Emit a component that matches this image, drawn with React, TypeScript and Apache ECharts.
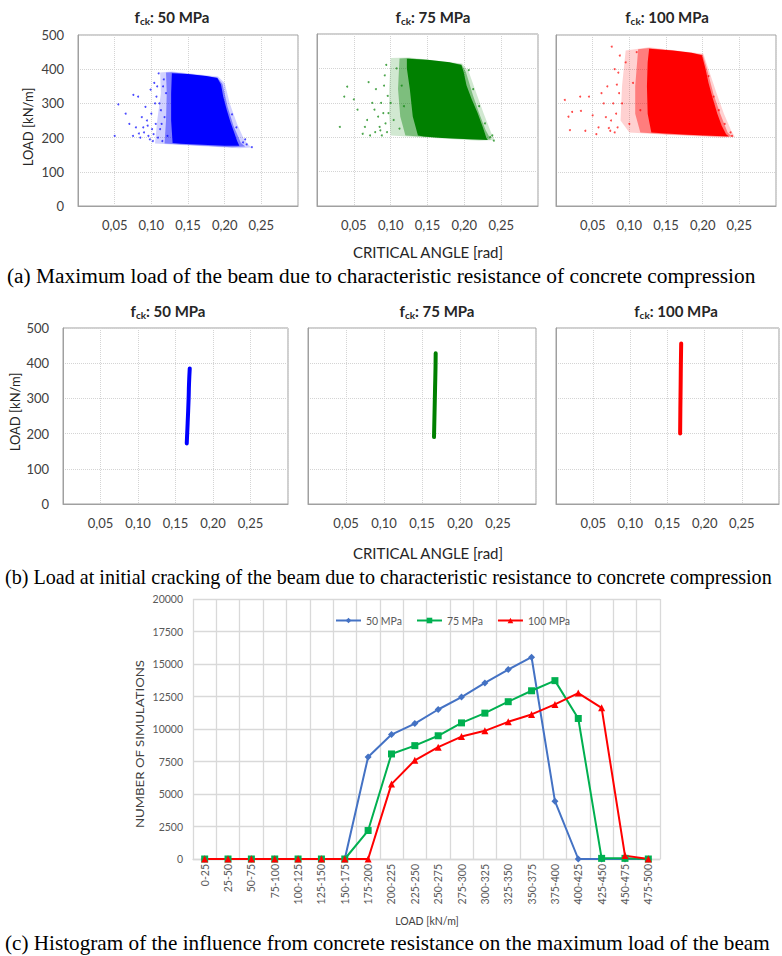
import React, { useEffect, useRef } from "react";
import * as echarts from "echarts";

// ---------- shared ticks / labels ----------
const strengthTitles = ["50 MPa", "75 MPa", "100 MPa"];
const scatterColors = ["#0000ff", "#008000", "#ff0000"];

// ---------- (a) maximum load clouds: [critical angle rad, load kN/m] ----------
const coreA50 = [[0.128, 388], [0.15, 386], [0.175, 380], [0.19, 374], [0.195, 355], [0.198, 320], [0.203, 280], [0.208, 245], [0.213, 215], [0.217, 190], [0.22, 176], [0.2, 176], [0.17, 179], [0.14, 182], [0.129, 184], [0.127, 250], [0.127, 330]];
const midA50 = [[0.12, 390], [0.128, 391], [0.19, 376], [0.197, 357], [0.204, 290], [0.212, 235], [0.222, 185], [0.228, 174], [0.21, 172], [0.14, 180], [0.118, 183], [0.12, 250], [0.121, 330]];
const fringeA50 = [[0.112, 390], [0.128, 393], [0.191, 379], [0.2, 360], [0.207, 300], [0.217, 240], [0.227, 192], [0.236, 171], [0.22, 169], [0.14, 178], [0.105, 183], [0.108, 250], [0.113, 330]];
const sparseA50 = [[0.05, 205], [0.055, 297], [0.0755, 325], [0.082, 320], [0.07, 240], [0.075, 205], [0.085, 200], [0.09, 215], [0.095, 235], [0.1, 270], [0.098, 195], [0.105, 300], [0.108, 350], [0.11, 388], [0.112, 225], [0.115, 190], [0.118, 260], [0.12, 330], [0.087, 260], [0.092, 290], [0.065, 270], [0.079, 230], [0.103, 210], [0.113, 280], [0.117, 370], [0.122, 205], [0.23, 180], [0.225, 186], [0.237, 172], [0.228, 195], [0.216, 230], [0.21, 268], [0.096, 205], [0.106, 240], [0.083, 212], [0.101, 225], [0.104, 360], [0.107, 320], [0.094, 250], [0.089, 230], [0.099, 340], [0.111, 300], [0.114, 240], [0.116, 350], [0.109, 200], [0.102, 190]];

const coreA75 = [[0.122, 428], [0.15, 425], [0.18, 418], [0.196, 410], [0.199, 390], [0.203, 350], [0.21, 310], [0.218, 270], [0.225, 230], [0.23, 198], [0.232, 192], [0.2, 195], [0.17, 198], [0.145, 202], [0.137, 205], [0.13, 260], [0.126, 340], [0.122, 400]];
const midA75 = [[0.112, 429], [0.124, 430], [0.196, 412], [0.202, 390], [0.212, 320], [0.22, 270], [0.229, 220], [0.236, 193], [0.21, 193], [0.14, 202], [0.12, 205], [0.113, 260], [0.11, 340]];
const fringeA75 = [[0.1, 430], [0.125, 432], [0.197, 414], [0.206, 390], [0.216, 330], [0.226, 270], [0.236, 215], [0.241, 192], [0.22, 190], [0.14, 200], [0.1, 205], [0.098, 260], [0.098, 340]];
const sparseA75 = [[0.031, 230], [0.037, 318], [0.041, 347], [0.05, 310], [0.055, 280], [0.062, 210], [0.068, 250], [0.075, 300], [0.08, 340], [0.085, 230], [0.09, 270], [0.092, 380], [0.095, 215], [0.1, 300], [0.104, 250], [0.108, 400], [0.112, 225], [0.115, 350], [0.118, 290], [0.07, 360], [0.235, 200], [0.24, 190], [0.238, 205], [0.228, 240], [0.22, 290], [0.212, 340], [0.206, 395], [0.088, 205], [0.079, 215], [0.096, 320], [0.083, 260], [0.087, 300], [0.093, 240], [0.091, 350], [0.094, 410], [0.097, 270], [0.086, 220], [0.078, 280], [0.072, 205], [0.065, 230]];

const coreA100 = [[0.127, 460], [0.16, 455], [0.185, 448], [0.199, 441], [0.204, 400], [0.208, 360], [0.213, 320], [0.22, 270], [0.226, 235], [0.232, 210], [0.236, 203], [0.22, 205], [0.18, 208], [0.15, 212], [0.13, 215], [0.125, 270], [0.124, 350], [0.125, 420]];
const midA100 = [[0.112, 458], [0.127, 462], [0.2, 443], [0.206, 400], [0.215, 325], [0.224, 270], [0.234, 215], [0.24, 203], [0.22, 203], [0.15, 210], [0.115, 215], [0.108, 270], [0.108, 350]];
const fringeA100 = [[0.095, 455], [0.127, 464], [0.201, 445], [0.208, 400], [0.219, 330], [0.229, 270], [0.239, 220], [0.244, 202], [0.225, 200], [0.15, 208], [0.1, 215], [0.088, 250], [0.09, 350]];
const sparseA100 = [[0.012, 310], [0.017, 261], [0.019, 222], [0.022, 275], [0.033, 320], [0.034, 278], [0.04, 220], [0.045, 320], [0.05, 265], [0.058, 230], [0.065, 300], [0.07, 350], [0.075, 250], [0.076, 466], [0.08, 215], [0.085, 390], [0.09, 300], [0.095, 420], [0.1, 240], [0.105, 360], [0.11, 450], [0.115, 280], [0.24, 205], [0.238, 215], [0.23, 240], [0.222, 280], [0.215, 320], [0.208, 380], [0.062, 330], [0.072, 228], [0.078, 300], [0.082, 270], [0.084, 230], [0.087, 440], [0.068, 260], [0.055, 210], [0.08, 400], [0.086, 330], [0.083, 355], [0.074, 220]];

// ---------- (b) load at initial cracking: [critical angle rad, load kN/m] ----------
const crackB50 = [[0.165, 172], [0.1662, 230], [0.1675, 300], [0.168, 340], [0.169, 385]];
const crackB75 = [[0.1658, 190], [0.1665, 260], [0.1672, 330], [0.1678, 390], [0.168, 428]];
const crackB100 = [[0.167, 200], [0.1673, 270], [0.1677, 340], [0.168, 400], [0.1684, 456]];

// ---------- (c) histogram ----------
const loadBins = ["0-25", "25-50", "50-75", "75-100", "100-125", "125-150", "150-175", "175-200", "200-225", "225-250", "250-275", "275-300", "300-325", "325-350", "350-375", "375-400", "400-425", "425-450", "450-475", "475-500"];
const sims50 = [0, 0, 0, 0, 0, 0, 0, 7850, 9570, 10420, 11500, 12460, 13540, 14570, 15520, 4450, 0, 0, 0, 0];
const sims75 = [0, 0, 0, 0, 0, 0, 0, 2190, 8080, 8720, 9480, 10470, 11220, 12100, 12940, 13720, 10810, 50, 50, 0];
const sims100 = [0, 0, 0, 0, 0, 0, 0, 0, 5760, 7590, 8600, 9420, 9860, 10550, 11120, 11890, 12760, 11630, 260, 0];

const F = 'Lato, "Open Sans", sans-serif';
const SERIF = '"Liberation Serif", "DejaVu Serif", serif';

const gridBoxes = [
  { left: 78, top: 35, width: 220, height: 171 },
  { left: 317, top: 34, width: 221, height: 172 },
  { left: 556, top: 35, width: 220, height: 171 },
  { left: 63, top: 328, width: 225, height: 176 },
  { left: 308, top: 328, width: 228, height: 176 },
  { left: 556, top: 328, width: 230, height: 176 },
  { left: 193, top: 599, width: 467, height: 260 },
];

function polygonSeries(idx: number, pts: number[][], color: string, opacity: number) {
  return {
    type: "custom",
    xAxisIndex: idx,
    yAxisIndex: idx,
    silent: true,
    clip: true,
    data: [[pts[0][0], pts[0][1]]],
    renderItem: (_params: any, api: any) => ({
      type: "polygon",
      shape: { points: pts.map((p) => api.coord(p)) },
      style: { fill: color, opacity },
    }),
  };
}

function titleText(x: number, y: number, label: string) {
  return {
    type: "text",
    x,
    y,
    style: {
      text: "{f|f}{s|ck}{t|: " + label + "}",
      align: "center",
      verticalAlign: "middle",
      rich: {
        f: { fontFamily: F, fontSize: 15, fontWeight: "bold", fill: "#262626", color: "#262626" },
        s: { fontFamily: F, fontSize: 10, fontWeight: "bold", fill: "#262626", color: "#262626", padding: [8, 0, 0, 0] },
        t: { fontFamily: F, fontSize: 15, fontWeight: "bold", fill: "#262626", color: "#262626" },
      },
    },
  };
}

function plainText(x: number, y: number, text: string, size: number, family: string, color: string, rotation = 0, align = "center", scaleX = 1) {
  return {
    type: "text",
    x,
    y,
    rotation,
    scaleX,
    style: { text, fontSize: size, fontFamily: family, fill: color, align, verticalAlign: "middle" },
  };
}

export default function App() {
  const ref = useRef<HTMLDivElement>(null);
  useEffect(() => {
    if (!ref.current) return;
    const chart = echarts.init(ref.current, undefined, { renderer: "svg" });

    const grids = gridBoxes.map((g, i) => ({
      ...g,
      show: i < 6,
      borderColor: "#a0a0a0",
      borderWidth: 1,
      containLabel: false,
    }));

    const xAxes: any[] = [];
    const yAxes: any[] = [];
    for (let i = 0; i < 6; i++) {
      xAxes.push({
        type: "value",
        gridIndex: i,
        min: 0,
        max: 0.3,
        interval: 0.05,
        axisLine: { show: true, lineStyle: { color: "#a0a0a0" } },
        axisTick: { show: false },
        splitLine: { show: true, lineStyle: { color: "#d4d4d4", type: "dotted" } },
        axisLabel: {
          fontFamily: F,
          fontSize: 13,
          color: "#404040",
          margin: 12,
          formatter: (v: number) => (v > 0.01 && v < 0.29 ? v.toFixed(2).replace(".", ",") : ""),
        },
      });
      yAxes.push({
        type: "value",
        gridIndex: i,
        min: 0,
        max: 500,
        interval: 100,
        axisLine: { show: true, lineStyle: { color: "#a0a0a0" } },
        axisTick: { show: false },
        splitLine: { show: true, lineStyle: { color: "#d4d4d4", type: "dotted" } },
        axisLabel: { show: i === 0 || i === 3, fontFamily: F, fontSize: 13, color: "#404040", margin: 14 },
      });
    }
    xAxes.push({
      type: "category",
      gridIndex: 6,
      data: loadBins,
      boundaryGap: true,
      axisLine: { show: true, lineStyle: { color: "#d9d9d9", width: 1.3 } },
      axisTick: { show: false },
      splitLine: { show: true, interval: 0, lineStyle: { color: "#d9d9d9", width: 1.3 } },
      axisLabel: { rotate: 90, interval: 0, fontFamily: F, fontSize: 10.5, color: "#595959", margin: 5 },
    });
    yAxes.push({
      type: "value",
      gridIndex: 6,
      min: 0,
      max: 20000,
      interval: 2500,
      axisLine: { show: false },
      axisTick: { show: false },
      splitLine: { show: true, lineStyle: { color: "#d9d9d9", width: 1.3 } },
      axisLabel: { fontFamily: F, fontSize: 10.5, color: "#595959", margin: 10, formatter: (v: number) => String(v) },
    });

    const cores = [coreA50, coreA75, coreA100];
    const mids = [midA50, midA75, midA100];
    const fringes = [fringeA50, fringeA75, fringeA100];
    const sparses = [sparseA50, sparseA75, sparseA100];
    const cracks = [crackB50, crackB75, crackB100];

    const series: any[] = [];
    for (let i = 0; i < 3; i++) {
      series.push(polygonSeries(i, fringes[i], scatterColors[i], 0.18));
      series.push(polygonSeries(i, mids[i], scatterColors[i], 0.4));
      series.push(polygonSeries(i, cores[i], scatterColors[i], 1));
      series.push({
        type: "scatter",
        xAxisIndex: i,
        yAxisIndex: i,
        data: sparses[i],
        symbolSize: 2,
        itemStyle: { color: scatterColors[i], opacity: 0.7 },
        silent: true,
      });
      series.push({
        type: "line",
        xAxisIndex: i + 3,
        yAxisIndex: i + 3,
        data: cracks[i],
        showSymbol: false,
        smooth: true,
        lineStyle: { color: scatterColors[i], width: 4, cap: "round" },
        silent: true,
      });
    }
    const histDefs = [
      { name: "50 MPa", data: sims50, color: "#4472c4", symbol: "diamond", size: 7 },
      { name: "75 MPa", data: sims75, color: "#00b050", symbol: "rect", size: 7 },
      { name: "100 MPa", data: sims100, color: "#ff0000", symbol: "triangle", size: 7 },
    ];
    histDefs.forEach((h) => {
      series.push({
        type: "line",
        name: h.name,
        xAxisIndex: 6,
        yAxisIndex: 6,
        data: h.data,
        symbol: h.symbol,
        symbolSize: h.size,
        showAllSymbol: true,
        itemStyle: { color: h.color },
        lineStyle: { color: h.color, width: 2 },
      });
    });

    const graphic: any[] = [
      titleText(172, 17, strengthTitles[0]),
      titleText(433, 17, strengthTitles[1]),
      titleText(667, 17, strengthTitles[2]),
      titleText(168, 311, strengthTitles[0]),
      titleText(437, 311, strengthTitles[1]),
      titleText(676, 311, strengthTitles[2]),
      plainText(28, 127, "LOAD [kN/m]", 13, F, "#262626", Math.PI / 2),
      plainText(15, 412, "LOAD [kN/m]", 13, F, "#262626", Math.PI / 2),
      plainText(428, 252, "CRITICAL ANGLE [rad]", 15, F, "#262626"),
      plainText(428, 553, "CRITICAL ANGLE [rad]", 15, F, "#262626"),
      plainText(7, 276, "(a) Maximum load of the beam due to characteristic resistance of concrete compression", 20, SERIF, "#000", 0, "left", 1.07),
      plainText(5, 577, "(b) Load at initial cracking of the beam due to characteristic resistance to concrete compression", 20, SERIF, "#000", 0, "left", 1.005),
      plainText(5, 943, "(c) Histogram of the influence from concrete resistance on the maximum load of the beam", 20, SERIF, "#000", 0, "left", 1.06),
      plainText(140, 744, "NUMBER OF SIMULATIONS", 11.5, F, "#404040", Math.PI / 2, "center", 1.15),
      plainText(427, 921, "LOAD [kN/m]", 10.5, F, "#404040"),
    ];

    chart.setOption({
      animation: false,
      backgroundColor: "#ffffff",
      grid: grids,
      xAxis: xAxes,
      yAxis: yAxes,
      series,
      legend: {
        data: histDefs.map((h) => h.name),
        left: 330,
        top: 610,
        itemWidth: 25,
        itemHeight: 7,
        itemGap: 14,
        textStyle: { fontFamily: F, fontSize: 10.5, color: "#595959" },
      },
      graphic,
    });
    return () => chart.dispose();
  }, []);
  return <div ref={ref} style={{ position: "absolute", left: 0, top: 0, width: 782, height: 956 }} />;
}
